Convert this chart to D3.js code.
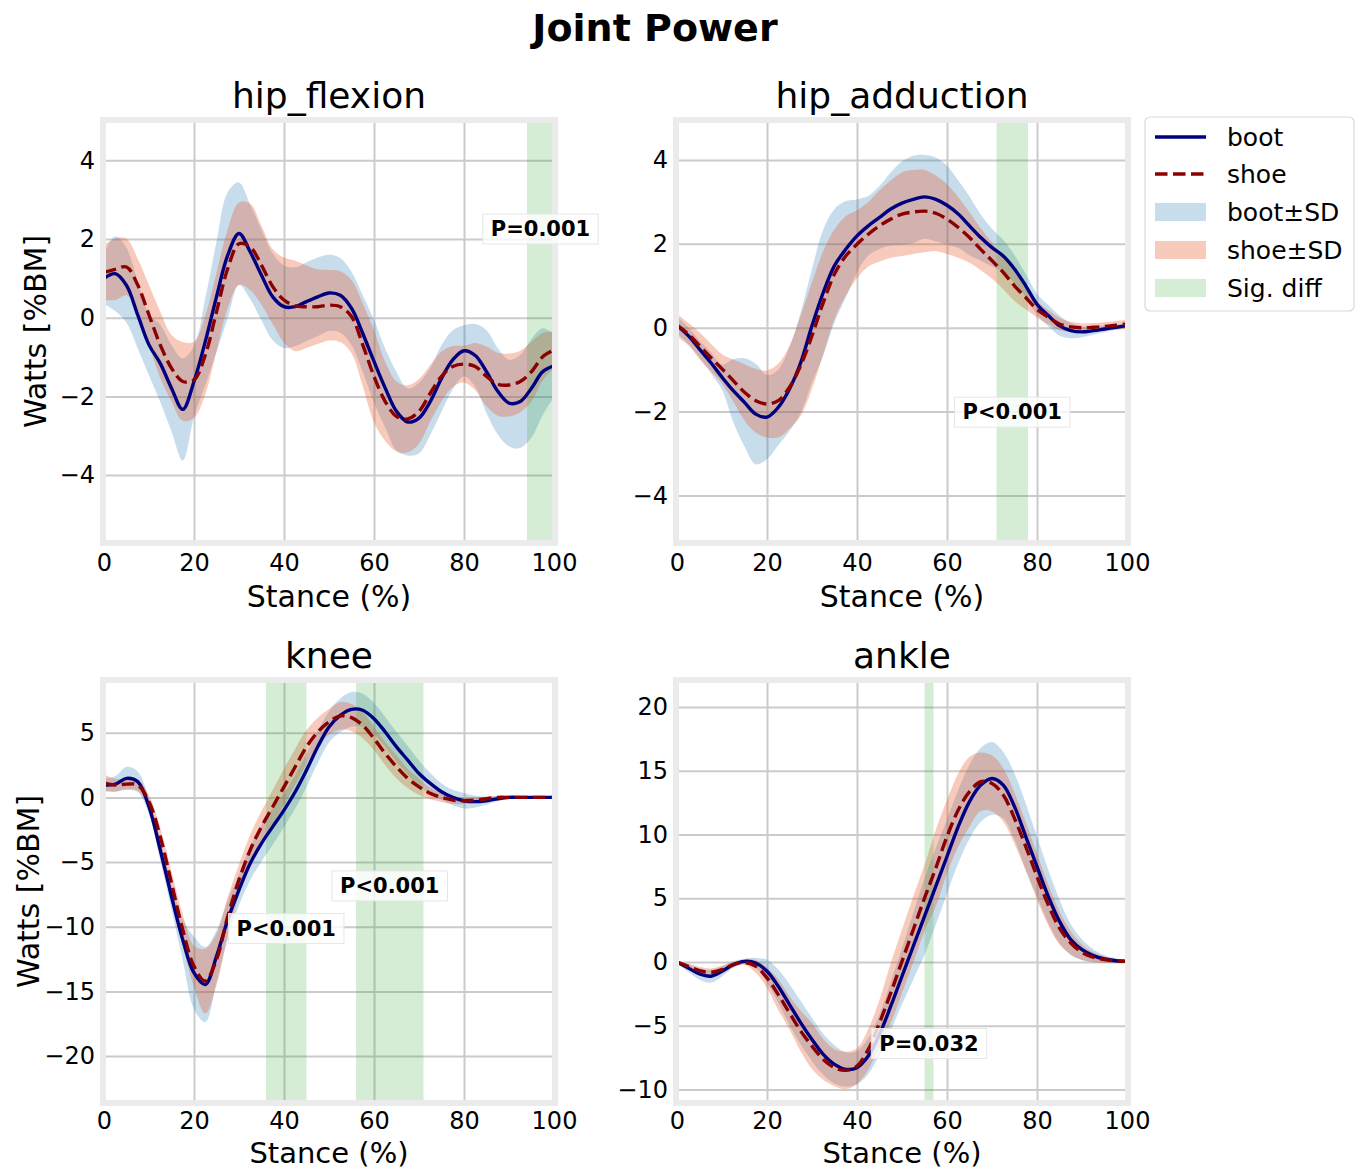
<!DOCTYPE html>
<html>
<head>
<meta charset="utf-8">
<script src="https://cdn.jsdelivr.net/npm/d3@7"></script>
<style>
  body { margin: 0; background: #fff; }
  svg { font-family: "DejaVu Sans", sans-serif; }
</style>
</head>
<body>
<svg id="chart" width="1357" height="1170"></svg>
<script>
// stance (% of stance phase)
var stance = [0, 2.5, 5, 7.5, 10, 12.5, 15, 17.5, 20, 22.5, 25, 27.5, 30, 32.5, 35, 37.5, 40,
  42.5, 45, 47.5, 50, 52.5, 55, 57.5, 60, 62.5, 65, 67.5, 70, 72.5, 75, 77.5, 80, 82.5, 85,
  87.5, 90, 92.5, 95, 97.5, 100];

// hip_flexion
var hipFlexionBoot = [1.0, 1.12, 0.82, 0.07, -0.69, -1.16, -1.79, -2.33, -1.62, -0.61, 0.53,
  1.59, 2.14, 1.67, 1.08, 0.53, 0.28, 0.28, 0.41, 0.53, 0.63, 0.57, 0.24, -0.40, -1.11, -1.79,
  -2.38, -2.65, -2.55, -2.13, -1.54, -1.07, -0.84, -0.96, -1.37, -1.87, -2.17, -2.13, -1.79,
  -1.37, -1.22];
var hipFlexionBootSd = [0.65, 0.95, 0.95, 0.85, 0.78, 0.98, 1.1, 1.3, 0.9, 1.1, 1.4, 1.6, 1.3,
  1.2, 1.15, 1.1, 1.05, 1.0, 1.0, 1.0, 0.97, 0.95, 0.93, 0.97, 1.05, 1.0, 1.0, 0.85, 0.9, 0.85,
  0.85, 0.75, 0.65, 0.8, 1.05, 1.1, 1.1, 1.18, 1.25, 1.1, 0.8];
var hipFlexionShoe = [1.15, 1.23, 1.29, 0.83, 0.07, -0.69, -1.28, -1.62, -1.58, -0.95, 0.15,
  1.25, 1.88, 1.80, 1.33, 0.79, 0.45, 0.30, 0.28, 0.28, 0.32, 0.28, 0.03, -0.69, -1.49, -2.13,
  -2.51, -2.57, -2.38, -1.92, -1.49, -1.24, -1.18, -1.24, -1.49, -1.69, -1.71, -1.62, -1.37,
  -0.99, -0.82];
var hipFlexionShoeSd = [0.7, 0.78, 0.72, 0.67, 0.76, 0.84, 0.84, 1.0, 0.97, 1.0, 1.0, 1.0, 1.05,
  1.1, 1.0, 0.95, 1.08, 1.15, 1.05, 0.95, 0.9, 0.9, 0.93, 1.05, 1.17, 1.0, 0.89, 0.85, 0.82,
  0.72, 0.63, 0.52, 0.47, 0.6, 0.76, 0.8, 0.8, 0.78, 0.76, 0.6, 0.47];

// hip_adduction
var hipAdductionBoot = [0.06, -0.19, -0.51, -0.83, -1.18, -1.5, -1.78, -2.06, -2.13, -1.9,
  -1.46, -0.83, 0.05, 0.84, 1.48, 1.87, 2.19, 2.43, 2.63, 2.83, 2.97, 3.06, 3.12, 3.06, 2.92,
  2.71, 2.43, 2.15, 1.91, 1.71, 1.40, 1.0, 0.56, 0.29, 0.05, -0.07, -0.1, -0.07, -0.03, 0.01,
  0.05];
var hipAdductionBootSd = [0.2, 0.2, 0.2, 0.25, 0.3, 0.75, 1.05, 1.2, 1.0, 0.9, 1.0, 1.2, 1.35,
  1.5, 1.35, 1.15, 0.87, 0.71, 0.75, 0.87, 1.0, 1.04, 1.0, 1.0, 0.94, 0.8, 0.7, 0.55, 0.45,
  0.38, 0.33, 0.28, 0.25, 0.25, 0.24, 0.18, 0.13, 0.1, 0.08, 0.06, 0.05];
var hipAdductionShoe = [0.06, -0.15, -0.43, -0.71, -0.98, -1.26, -1.54, -1.74, -1.82, -1.74,
  -1.42, -0.9, -0.19, 0.6, 1.28, 1.71, 1.99, 2.23, 2.43, 2.59, 2.71, 2.76, 2.78, 2.73, 2.59,
  2.39, 2.15, 1.87, 1.6, 1.32, 1.0, 0.72, 0.44, 0.25, 0.09, 0.02, 0.0, 0.01, 0.03, 0.06, 0.09];
var hipAdductionShoeSd = [0.27, 0.27, 0.32, 0.33, 0.35, 0.5, 0.67, 0.76, 0.8, 0.88, 0.99, 1.2,
  1.27, 1.23, 1.07, 0.95, 0.81, 0.77, 0.85, 0.92, 1.0, 1.0, 0.98, 0.9, 0.83, 0.72, 0.6, 0.5,
  0.43, 0.4, 0.36, 0.28, 0.2, 0.17, 0.15, 0.12, 0.1, 0.1, 0.1, 0.1, 0.1];

// knee
var kneeBoot = [0.95, 1.03, 1.47, 1.21, -0.72, -4.06, -7.66, -11.0, -13.57, -14.47, -12.29,
  -9.46, -7.15, -5.09, -3.55, -2.26, -0.98, 0.44, 2.11, 3.91, 5.45, 6.35, 6.81, 6.74, 6.09,
  5.06, 3.91, 2.88, 1.85, 1.08, 0.44, 0.0, -0.26, -0.33, -0.26, -0.1, 0, 0, 0, 0, 0];
var kneeBootSd = [0.5, 0.6, 0.9, 0.8, 0.6, 0.8, 1.0, 1.6, 2.8, 2.9, 2.0, 1.5, 1.2, 1.3, 1.4,
  1.4, 1.3, 1.3, 1.3, 1.25, 1.2, 1.3, 1.34, 1.28, 1.2, 1.15, 1.15, 1.1, 1.0, 0.8, 0.64, 0.6,
  0.6, 0.45, 0.3, 0.2, 0.15, 0.1, 0.05, 0.05, 0.05];
var kneeShoe = [1.13, 0.95, 1.03, 0.95, -0.33, -3.03, -6.63, -10.23, -13.06, -14.2, -12.54,
  -9.2, -6.38, -4.06, -2.26, -0.72, 0.82, 2.37, 3.91, 5.06, 5.84, 6.3, 6.17, 5.58, 4.55, 3.39,
  2.37, 1.47, 0.82, 0.31, 0, -0.21, -0.26, -0.21, -0.1, 0, 0, 0, 0, 0, 0];
var kneeShoeSd = [0.64, 0.5, 0.4, 0.45, 0.5, 0.7, 0.9, 1.2, 1.6, 2.5, 2.0, 1.5, 1.2, 1.2, 1.2,
  1.3, 1.4, 1.4, 1.3, 1.1, 1.0, 1.05, 1.05, 1.0, 0.9, 0.9, 0.9, 0.75, 0.64, 0.45, 0.35, 0.3,
  0.25, 0.2, 0.15, 0.1, 0.05, 0.05, 0.05, 0.05, 0.05];

// ankle
var ankleBoot = [0, -0.47, -0.94, -1.12, -0.73, -0.21, 0.05, -0.08, -0.73, -1.9, -3.34, -4.77,
  -6.08, -7.25, -8.03, -8.42, -8.29, -7.38, -5.68, -3.47, -1.12, 1.23, 3.57, 5.92, 8.27, 10.61,
  12.57, 13.87, 14.39, 13.87, 12.18, 9.83, 7.48, 5.14, 3.18, 1.75, 0.96, 0.5, 0.23, 0.1, 0.05];
var ankleBootSd = [0.1, 0.3, 0.45, 0.5, 0.4, 0.25, 0.2, 0.4, 0.9, 1.3, 1.6, 1.7, 1.7, 1.6, 1.5,
  1.35, 1.3, 1.4, 1.6, 1.9, 2.2, 2.6, 3.0, 3.0, 2.9, 2.87, 2.9, 2.9, 2.85, 2.6, 2.6, 2.6, 2.35,
  2.1, 1.7, 1.2, 0.8, 0.5, 0.3, 0.2, 0.1];
var ankleShoe = [0, -0.34, -0.68, -0.81, -0.6, -0.21, -0.03, -0.34, -1.25, -2.56, -3.99, -5.42,
  -6.6, -7.64, -8.29, -8.5, -8.16, -6.86, -4.77, -2.43, 0.05, 2.53, 5.0, 7.35, 9.83, 11.92,
  13.35, 14.13, 14.0, 13.09, 11.26, 9.05, 6.7, 4.48, 2.66, 1.49, 0.76, 0.37, 0.18, 0.08, 0.05];
var ankleShoeSd = [0.1, 0.2, 0.3, 0.3, 0.3, 0.2, 0.2, 0.5, 0.8, 1.2, 1.3, 1.6, 1.8, 1.6, 1.45,
  1.47, 1.4, 1.6, 1.8, 2.35, 2.5, 2.6, 2.6, 3.0, 2.87, 2.86, 2.75, 2.3, 2.2, 2.1, 2.0, 1.9, 1.8,
  1.6, 1.3, 0.9, 0.6, 0.4, 0.25, 0.15, 0.1];

// significant regions [start, end] and their p-values
var hipFlexionSig = [[94, 100]];
var hipFlexionP = ['P=0.001'];
var hipAdductionSig = [[71, 78]];
var hipAdductionP = ['P<0.001'];
var kneeSig = [[36, 45], [56, 71]];
var kneeP = ['P<0.001', 'P<0.001'];
var ankleSig = [[55, 57]];
var ankleP = ['P=0.032'];

var xTicks = [0, 20, 40, 60, 80, 100];
var legendLabels = ['boot', 'shoe', 'boot\u00b1SD', 'shoe\u00b1SD', 'Sig. diff'];

var panels = [
  {name: 'hip_flexion', boot: hipFlexionBoot, bootSd: hipFlexionBootSd, shoe: hipFlexionShoe,
   shoeSd: hipFlexionShoeSd, sig: hipFlexionSig, p: hipFlexionP, pY: [2.27],
   yDomain: [-5.7, 5.0], yTicks: [-4, -2, 0, 2, 4], col: 0, row: 0, ylabel: true},
  {name: 'hip_adduction', boot: hipAdductionBoot, bootSd: hipAdductionBootSd, shoe: hipAdductionShoe,
   shoeSd: hipAdductionShoeSd, sig: hipAdductionSig, p: hipAdductionP, pY: [-2.0],
   yDomain: [-5.11, 4.93], yTicks: [-4, -2, 0, 2, 4], col: 1, row: 0, ylabel: false},
  {name: 'knee', boot: kneeBoot, bootSd: kneeBootSd, shoe: kneeShoe,
   shoeSd: kneeShoeSd, sig: kneeSig, p: kneeP, pY: [-10.1, -6.8],
   yDomain: [-23.55, 9.0], yTicks: [-20, -15, -10, -5, 0, 5], col: 0, row: 1, ylabel: true},
  {name: 'ankle', boot: ankleBoot, bootSd: ankleBootSd, shoe: ankleShoe,
   shoeSd: ankleShoeSd, sig: ankleSig, p: ankleP, pY: [-6.35],
   yDomain: [-10.98, 22.03], yTicks: [-10, -5, 0, 5, 10, 15, 20], col: 1, row: 1, ylabel: false}
];

var colLeft = [104, 677];
var rowTop = [121, 681];
var plotW = 450, plotH = 421;

var bootColor = '#000080', shoeColor = '#8b0000';
var bootFill = '#1f77b4', shoeFill = '#e8501e', sigFill = '#2ca02c';

var svg = d3.select('#chart');

svg.append('text')
  .attr('x', 655).attr('y', 41)
  .attr('text-anchor', 'middle')
  .style('font-size', '38px').style('font-weight', 'bold')
  .text('Joint Power');

panels.forEach(function (p, pi) {
  var x0 = colLeft[p.col], y0 = rowTop[p.row];
  var x = d3.scaleLinear().domain([0, 100]).range([0, plotW]);
  var y = d3.scaleLinear().domain(p.yDomain).range([plotH, 0]);
  var bottomRow = p.row === 1;

  var g = svg.append('g').attr('transform', 'translate(' + [x0, y0] + ')');

  g.append('clipPath').attr('id', 'clip' + pi)
    .append('rect').attr('width', plotW).attr('height', plotH);

  g.append('rect').attr('width', plotW).attr('height', plotH).attr('fill', '#fff');

  // grid
  var grid = g.append('g');
  grid.append('g').attr('transform', 'translate(0,' + plotH + ')')
    .call(d3.axisBottom(x).tickValues(xTicks).tickSize(-plotH).tickFormat(''));
  grid.append('g')
    .call(d3.axisLeft(y).tickValues(p.yTicks).tickSize(-plotW).tickFormat(''));
  grid.selectAll('.domain').remove();
  grid.selectAll('line').attr('stroke', '#cbcbcb').attr('stroke-width', 2);

  var content = g.append('g').attr('clip-path', 'url(#clip' + pi + ')');

  var bootPts = stance.map(function (s, i) { return {x: s, m: p.boot[i], s: p.bootSd[i]}; });
  var shoePts = stance.map(function (s, i) { return {x: s, m: p.shoe[i], s: p.shoeSd[i]}; });

  var band = d3.area()
    .x(function (d) { return x(d.x); })
    .y0(function (d) { return y(d.m - d.s); })
    .y1(function (d) { return y(d.m + d.s); })
    .curve(d3.curveCatmullRom.alpha(0.5));
  var line = d3.line()
    .x(function (d) { return x(d.x); })
    .y(function (d) { return y(d.m); })
    .curve(d3.curveCatmullRom.alpha(0.5));

  content.append('path').datum(bootPts).attr('d', band)
    .attr('fill', bootFill).attr('fill-opacity', 0.25);
  content.append('path').datum(shoePts).attr('d', band)
    .attr('fill', shoeFill).attr('fill-opacity', 0.3);

  content.selectAll('.sig').data(p.sig).enter().append('rect')
    .attr('x', function (d) { return x(d[0]); })
    .attr('width', function (d) { return x(d[1]) - x(d[0]); })
    .attr('y', 0).attr('height', plotH)
    .attr('fill', sigFill).attr('fill-opacity', 0.2);

  content.append('path').datum(bootPts).attr('d', line)
    .attr('fill', 'none').attr('stroke', bootColor).attr('stroke-width', 3.4);
  content.append('path').datum(shoePts).attr('d', line)
    .attr('fill', 'none').attr('stroke', shoeColor).attr('stroke-width', 3.4)
    .attr('stroke-dasharray', '12.5,5.5');

  // frame
  g.append('rect').attr('x', -1).attr('y', -1)
    .attr('width', plotW + 2).attr('height', plotH + 2)
    .attr('fill', 'none').attr('stroke', '#ebebeb').attr('stroke-width', 6);

  // p-value labels
  p.sig.forEach(function (s, i) {
    var lg = g.append('g');
    var t = lg.append('text')
      .attr('x', x((s[0] + s[1]) / 2)).attr('y', y(p.pY[i]))
      .attr('text-anchor', 'middle').attr('dy', '0.36em')
      .style('font-size', '21px').style('font-weight', 'bold')
      .text(p.p[i]);
    var bb = t.node().getBBox();
    lg.insert('rect', 'text')
      .attr('x', bb.x - 8).attr('y', bb.y - 3)
      .attr('width', bb.width + 16).attr('height', bb.height + 6)
      .attr('fill', '#fff').attr('fill-opacity', 0.8)
      .attr('stroke', '#e6e6e6').attr('stroke-width', 1);
  });

  // axes labels
  var xa = g.append('g').attr('transform', 'translate(0,' + plotH + ')')
    .call(d3.axisBottom(x).tickValues(xTicks).tickSize(0).tickPadding(bottomRow ? 10 : 12));
  var ya = g.append('g')
    .call(d3.axisLeft(y).tickValues(p.yTicks).tickSize(0).tickPadding(9));
  [xa, ya].forEach(function (a) {
    a.select('.domain').remove();
    a.selectAll('text').style('font-size', '24px').attr('fill', '#000')
      .style('font-family', '"DejaVu Sans", sans-serif');
  });

  g.append('text')
    .attr('x', plotW / 2).attr('y', bottomRow ? plotH + 61 : plotH + 65)
    .attr('text-anchor', 'middle').style('font-size', bottomRow ? '29px' : '30px')
    .text('Stance (%)');

  g.append('text')
    .attr('x', plotW / 2).attr('y', -13)
    .attr('text-anchor', 'middle').style('font-size', '36px')
    .text(p.name);

  if (p.ylabel) {
    var lx = p.row === 0 ? -58 : -65;
    g.append('text')
      .attr('transform', 'translate(' + lx + ',' + (plotH / 2) + ') rotate(-90)')
      .attr('text-anchor', 'middle').style('font-size', '30px')
      .text('Watts [%BM]');
  }
});

// legend
var leg = svg.append('g').attr('transform', 'translate(1145,117)');
leg.append('rect').attr('width', 209).attr('height', 194).attr('rx', 5)
  .attr('fill', '#fff').attr('stroke', '#d9d9d9').attr('stroke-width', 1.2);
var itemY = [20, 57, 95, 133, 171];
legendLabels.forEach(function (lab, i) {
  var yy = itemY[i];
  if (i === 0 || i === 1) {
    leg.append('line').attr('x1', 10).attr('x2', 61).attr('y1', yy).attr('y2', yy)
      .attr('stroke', i === 0 ? bootColor : shoeColor).attr('stroke-width', 3.4)
      .attr('stroke-dasharray', i === 1 ? '12.5,5.5' : null);
  } else {
    var fill = [bootFill, shoeFill, sigFill][i - 2];
    var op = [0.25, 0.3, 0.2][i - 2];
    leg.append('rect').attr('x', 10).attr('y', yy - 9).attr('width', 51).attr('height', 18)
      .attr('fill', fill).attr('fill-opacity', op);
  }
  leg.append('text').attr('x', 82).attr('y', yy + 9)
    .style('font-size', '25px').text(lab);
});
</script>
</body>
</html>
